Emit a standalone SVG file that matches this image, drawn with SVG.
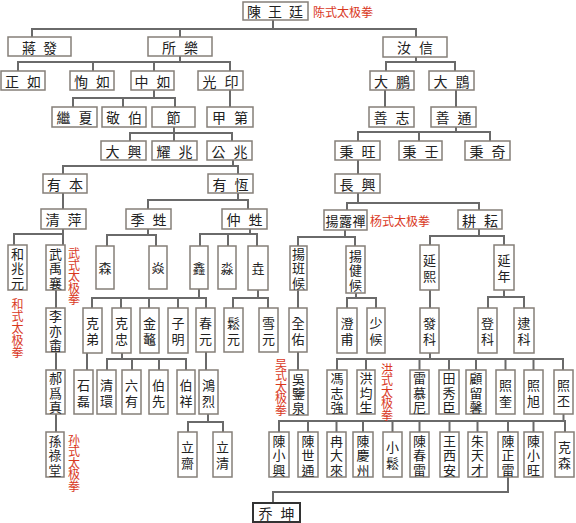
<svg xmlns="http://www.w3.org/2000/svg" width="576" height="523" viewBox="0 0 576 523">
<style>
.b{fill:#fff;stroke:#857f78;stroke-width:1.5}
.bk{fill:#fff;stroke:#333;stroke-width:2}
.t{font-family:"Noto Sans CJK TC","Noto Sans CJK SC",sans-serif;font-size:14px;fill:#222;text-anchor:middle;dominant-baseline:central}
.v{font-family:"Noto Sans CJK TC","Noto Sans CJK SC",sans-serif;font-size:13px;fill:#222;text-anchor:middle;dominant-baseline:central}
.r{font-family:"Noto Sans CJK SC",sans-serif;font-size:12px;fill:#d9381e;text-anchor:middle;dominant-baseline:central}
#connectors path{fill:none;stroke:#6a6a6a;stroke-width:2}
</style>
<rect width="576" height="523" fill="#fff"/>
<g id="connectors">
<path d="M273 20V29M32 37V29H416V37M180 29V37"/>
<path d="M180 56V62M18 71V62H230V71M93 62V71M154 62V71"/>
<path d="M416 57V62M386 71V62H455V71"/>
<path d="M154 90V98M73 107V98H175V107M123 98V107"/>
<path d="M230 90V107M385 90V107M456 90V107"/>
<path d="M174 127V141M130 141V133H232V141"/>
<path d="M456 127V132M358 141V132H490V141M419 132V141"/>
<path d="M233 160V166M63 174V166H238V174"/>
<path d="M358 160V174M63 193V209"/>
<path d="M238 193V200M148 209V200H248V209"/>
<path d="M358 193V203M347 210V203H479V210"/>
<path d="M14 245V234H63M63 229V245"/>
<path d="M148 229V235M107 246V235H156V246"/>
<path d="M250 229V234M200 246V234H257V246M228 234V246"/>
<path d="M345 230V237M298 246V237H355V246"/>
<path d="M479 229V236M430 245V236H504V245"/>
<path d="M56 290V308"/>
<path d="M199 289V298M92 308V298H206V308M121 298V308M149 298V308M178 298V308"/>
<path d="M258 290V298M233 308V298H268V308"/>
<path d="M298 290V308M430 290V308"/>
<path d="M356 293V298M347 308V298H376V308"/>
<path d="M504 290V297M488 308V297H524V308"/>
<path d="M56 352V370M87 353V370M206 352V370M298 352V370"/>
<path d="M122 353V359M107 370V359H186V370M132 359V370M159 359V370"/>
<path d="M430 353V359M337 370V359H563V370M366 359V370M419.5 359V370M449 359V370M476 359V370M505.5 359V370M533.5 359V370"/>
<path d="M56 414V432"/>
<path d="M208 414V422M188 432V422H223V432"/>
<path d="M563.5 414V421M279 432V421H565V432M308 421V432M336.5 421V432M363 421V432M392.5 421V432M419.5 421V432M449.5 421V432M477.5 421V432M508 421V432M533.5 421V432"/>
<path d="M508 477V492H273V503"/>
</g>

<g id="n-chenwangting"><rect class="b" x="243" y="2" width="65" height="18"/><text class="t" x="254 275 296" y="11">陳王廷</text></g>
<g id="n-jiangfa"><rect class="b" x="8" y="37" width="63" height="19"/><text class="t" x="29 50" y="46.5">蔣發</text></g>
<g id="n-suole"><rect class="b" x="148" y="37" width="64" height="19"/><text class="t" x="169 191" y="46.5">所樂</text></g>
<g id="n-ruxin"><rect class="b" x="383" y="37" width="64" height="20"/><text class="t" x="404 426" y="47">汝信</text></g>
<g id="n-zhengru"><rect class="b" x="1" y="71" width="44" height="19"/><text class="t" x="12 34" y="80.5">正如</text></g>
<g id="n-xunru"><rect class="b" x="70" y="71" width="44" height="19"/><text class="t" x="81 103" y="80.5">恂如</text></g>
<g id="n-zhongru"><rect class="b" x="131" y="71" width="43" height="19"/><text class="t" x="141.5 163.5" y="80.5">中如</text></g>
<g id="n-guangyin"><rect class="b" x="198" y="71" width="45" height="19"/><text class="t" x="209.5 231.5" y="80.5">光印</text></g>
<g id="n-dapeng"><rect class="b" x="370" y="71" width="44" height="19"/><text class="t" x="381 403" y="80.5">大鵬</text></g>
<g id="n-dakun"><rect class="b" x="429" y="71" width="45" height="19"/><text class="t" x="440.5 462.5" y="80.5">大鵾</text></g>
<g id="n-jixia"><rect class="b" x="52" y="107" width="45" height="20"/><text class="t" x="63.5 85.5" y="117">繼夏</text></g>
<g id="n-jingbo"><rect class="b" x="102" y="107" width="44" height="20"/><text class="t" x="113 135" y="117">敬伯</text></g>
<g id="n-jie"><rect class="b" x="152" y="107" width="43" height="20"/><text class="t" x="173.5" y="117">節</text></g>
<g id="n-jiadi"><rect class="b" x="207" y="107" width="46" height="20"/><text class="t" x="219 241" y="117">甲第</text></g>
<g id="n-shanzhi"><rect class="b" x="369" y="107" width="45" height="20"/><text class="t" x="380.5 402.5" y="117">善志</text></g>
<g id="n-shantong"><rect class="b" x="431" y="107" width="45" height="20"/><text class="t" x="442.5 464.5" y="117">善通</text></g>
<g id="n-daxing"><rect class="b" x="101" y="141" width="45" height="19"/><text class="t" x="112.5 134.5" y="150.5">大興</text></g>
<g id="n-yaozhao"><rect class="b" x="152" y="141" width="45" height="19"/><text class="t" x="163.5 185.5" y="150.5">耀兆</text></g>
<g id="n-gongzhao"><rect class="b" x="207" y="141" width="45" height="19"/><text class="t" x="218.5 240.5" y="150.5">公兆</text></g>
<g id="n-bingwang"><rect class="b" x="335" y="141" width="45" height="19"/><text class="t" x="346.5 368.5" y="150.5">秉旺</text></g>
<g id="n-bingren"><rect class="b" x="399" y="141" width="43" height="19"/><text class="t" x="409.5 431.5" y="150.5">秉壬</text></g>
<g id="n-bingqi"><rect class="b" x="465" y="141" width="45" height="19"/><text class="t" x="476.5 498.5" y="150.5">秉奇</text></g>
<g id="n-youben"><rect class="b" x="43" y="174" width="44" height="19"/><text class="t" x="54 76" y="183.5">有本</text></g>
<g id="n-youheng"><rect class="b" x="208" y="174" width="45" height="19"/><text class="t" x="219.5 241.5" y="183.5">有恆</text></g>
<g id="n-changxing"><rect class="b" x="335" y="174" width="45" height="19"/><text class="t" x="346.5 368.5" y="183.5">長興</text></g>
<g id="n-qingping"><rect class="b" x="41" y="209" width="45" height="20"/><text class="t" x="52.5 74.5" y="219">清萍</text></g>
<g id="n-jishen"><rect class="b" x="126" y="209" width="45" height="20"/><text class="t" x="137.5 159.5" y="219">季甡</text></g>
<g id="n-zhongshen"><rect class="b" x="222" y="209" width="45" height="20"/><text class="t" x="233.5 255.5" y="219">仲甡</text></g>
<g id="n-yangluchan"><rect class="b" x="324" y="210" width="43" height="20"/><text class="t" x="332 345.5 359" y="220" style="font-size:13px">揚露禪</text></g>
<g id="n-gengyun"><rect class="b" x="458" y="210" width="44" height="19"/><text class="t" x="469 491" y="219.5">耕耘</text></g>

<g id="n-hezhaoyuan"><rect class="b" x="8" y="245" width="19" height="45"/><text class="v" x="17.5 17.5 17.5" y="253 267.5 282">和兆元</text></g>
<g id="n-wuyuxiang"><rect class="b" x="46" y="245" width="19" height="45"/><text class="v" x="55.5 55.5 55.5" y="253 267.5 282">武禹襄</text></g>
<g id="n-sen"><rect class="b" x="96" y="246" width="18" height="43"/><text class="v" x="105" y="267.5">森</text></g>
<g id="n-yan"><rect class="b" x="149" y="246" width="18" height="43"/><text class="v" x="158" y="267.5">焱</text></g>
<g id="n-xin"><rect class="b" x="190" y="246" width="18" height="43"/><text class="v" x="199" y="267.5">鑫</text></g>
<g id="n-miao"><rect class="b" x="218" y="246" width="18" height="43"/><text class="v" x="227" y="267.5">淼</text></g>
<g id="n-yao"><rect class="b" x="248" y="246" width="20" height="44"/><text class="v" x="258" y="267.5">垚</text></g>
<g id="n-yangbanhou"><rect class="b" x="290" y="246" width="17" height="44"/><text class="v" x="298.5 298.5 298.5" y="253 267.5 282">揚班候</text></g>
<g id="n-yangjianhou"><rect class="b" x="346" y="246" width="19" height="47"/><text class="v" x="355.5 355.5 355.5" y="255 269.5 284">揚健候</text></g>
<g id="n-yanxi"><rect class="b" x="420" y="245" width="19" height="45"/><text class="v" x="429.5 429.5" y="259.5 275.5">延熙</text></g>
<g id="n-yannian"><rect class="b" x="494" y="245" width="20" height="45"/><text class="v" x="504 504" y="259.5 275.5">延年</text></g>

<g id="n-liyiyu"><rect class="b" x="46" y="308" width="19" height="44"/><text class="v" x="55.5 55.5 55.5" y="315.5 330 344.5">李亦畬</text></g>
<g id="n-kedi"><rect class="b" x="83" y="308" width="19" height="45"/><text class="v" x="92.5 92.5" y="322.5 338.5">克弟</text></g>
<g id="n-kezhong"><rect class="b" x="112" y="308" width="19" height="45"/><text class="v" x="121.5 121.5" y="322.5 338.5">克忠</text></g>
<g id="n-jinao"><rect class="b" x="140" y="308" width="19" height="45"/><text class="v" x="149.5 149.5" y="322.5 338.5">金鼇</text></g>
<g id="n-ziming"><rect class="b" x="168" y="308" width="20" height="45"/><text class="v" x="178 178" y="322.5 338.5">子明</text></g>
<g id="n-chunyuan"><rect class="b" x="196" y="308" width="19" height="44"/><text class="v" x="205.5 205.5" y="322 338">春元</text></g>
<g id="n-songyuan"><rect class="b" x="224" y="308" width="19" height="44"/><text class="v" x="233.5 233.5" y="322 338">鬆元</text></g>
<g id="n-xueyuan"><rect class="b" x="259" y="308" width="19" height="44"/><text class="v" x="268.5 268.5" y="322 338">雪元</text></g>
<g id="n-quanyou"><rect class="b" x="289" y="308" width="18" height="44"/><text class="v" x="298 298" y="322 338">全佑</text></g>
<g id="n-chengfu"><rect class="b" x="337" y="308" width="20" height="45"/><text class="v" x="347 347" y="322.5 338.5">澄甫</text></g>
<g id="n-shaohou"><rect class="b" x="367" y="308" width="18" height="45"/><text class="v" x="376 376" y="322.5 338.5">少候</text></g>
<g id="n-fake"><rect class="b" x="420" y="308" width="19" height="45"/><text class="v" x="429.5 429.5" y="322.5 338.5">發科</text></g>
<g id="n-dengke"><rect class="b" x="478" y="308" width="19" height="45"/><text class="v" x="487.5 487.5" y="322.5 338.5">登科</text></g>
<g id="n-daike"><rect class="b" x="514" y="308" width="20" height="45"/><text class="v" x="524 524" y="322.5 338.5">逮科</text></g>

<g id="n-haoweizhen"><rect class="b" x="46" y="370" width="19" height="44"/><text class="v" x="55.5 55.5 55.5" y="377.5 392 406.5">郝爲真</text></g>
<g id="n-shilei"><rect class="b" x="74" y="370" width="19" height="44"/><text class="v" x="83.5 83.5" y="384 400">石磊</text></g>
<g id="n-qinghuan"><rect class="b" x="97" y="370" width="19" height="44"/><text class="v" x="106.5 106.5" y="384 400">清環</text></g>
<g id="n-liuyou"><rect class="b" x="122" y="370" width="19" height="44"/><text class="v" x="131.5 131.5" y="384 400">六有</text></g>
<g id="n-boxian"><rect class="b" x="149" y="370" width="19" height="44"/><text class="v" x="158.5 158.5" y="384 400">伯先</text></g>
<g id="n-boxiang"><rect class="b" x="177" y="370" width="18" height="44"/><text class="v" x="186 186" y="384 400">伯祥</text></g>
<g id="n-honglie"><rect class="b" x="199" y="370" width="19" height="44"/><text class="v" x="208.5 208.5" y="384 400">鴻烈</text></g>
<g id="n-wujianquan"><rect class="b" x="289" y="370" width="19" height="45"/><text class="v" x="298.5 298.5 298.5" y="378 392.5 407">吳鑒泉</text></g>
<g id="n-fengzhiqiang"><rect class="b" x="327" y="370" width="20" height="44"/><text class="v" x="337 337 337" y="377.5 392 406.5">馮志強</text></g>
<g id="n-hongjunsheng"><rect class="b" x="357" y="370" width="18" height="44"/><text class="v" x="366 366 366" y="377.5 392 406.5">洪均生</text></g>
<g id="n-leimuni"><rect class="b" x="410" y="370" width="19" height="44"/><text class="v" x="419.5 419.5 419.5" y="377.5 392 406.5">雷慕尼</text></g>
<g id="n-tianxiuchen"><rect class="b" x="439" y="370" width="20" height="44"/><text class="v" x="449 449 449" y="377.5 392 406.5">田秀臣</text></g>
<g id="n-guliuxin"><rect class="b" x="466" y="370" width="20" height="44"/><text class="v" x="476 476 476" y="377.5 392 406.5">顧留馨</text></g>
<g id="n-zhaokui"><rect class="b" x="496" y="370" width="19" height="44"/><text class="v" x="505.5 505.5" y="384 400">照奎</text></g>
<g id="n-zhaoxu"><rect class="b" x="524" y="370" width="19" height="44"/><text class="v" x="533.5 533.5" y="384 400">照旭</text></g>
<g id="n-zhaopi"><rect class="b" x="554" y="370" width="19" height="44"/><text class="v" x="563.5 563.5" y="384 400">照丕</text></g>

<g id="n-sunlutang"><rect class="b" x="46" y="432" width="18" height="45"/><text class="v" x="55 55 55" y="440 454.5 469">孫祿堂</text></g>
<g id="n-lizhai"><rect class="b" x="178" y="432" width="19" height="45"/><text class="v" x="187.5 187.5" y="446.5 462.5">立齋</text></g>
<g id="n-liqing"><rect class="b" x="213" y="432" width="19" height="45"/><text class="v" x="222.5 222.5" y="446.5 462.5">立清</text></g>
<g id="n-chenxiaoxing"><rect class="b" x="269" y="432" width="20" height="45"/><text class="v" x="279 279 279" y="440 454.5 469">陳小興</text></g>
<g id="n-chenshitong"><rect class="b" x="298" y="432" width="20" height="45"/><text class="v" x="308 308 308" y="440 454.5 469">陳世通</text></g>
<g id="n-randalai"><rect class="b" x="327" y="432" width="19" height="45"/><text class="v" x="336.5 336.5 336.5" y="440 454.5 469">冉大來</text></g>
<g id="n-chenqingzhou"><rect class="b" x="353" y="432" width="20" height="45"/><text class="v" x="363 363 363" y="440 454.5 469">陳慶州</text></g>
<g id="n-xiaosong"><rect class="b" x="383" y="432" width="19" height="45"/><text class="v" x="392.5 392.5" y="446.5 462.5">小鬆</text></g>
<g id="n-chenchunlei"><rect class="b" x="410" y="432" width="19" height="45"/><text class="v" x="419.5 419.5 419.5" y="440 454.5 469">陳春雷</text></g>
<g id="n-wangxian"><rect class="b" x="440" y="432" width="19" height="45"/><text class="v" x="449.5 449.5 449.5" y="440 454.5 469">王西安</text></g>
<g id="n-zhutiancai"><rect class="b" x="468" y="432" width="19" height="45"/><text class="v" x="477.5 477.5 477.5" y="440 454.5 469">朱天才</text></g>
<g id="n-chenzhenglei"><rect class="b" x="498" y="432" width="20" height="45"/><text class="v" x="508 508 508" y="440 454.5 469">陳正雷</text></g>
<g id="n-chenxiaowang"><rect class="b" x="524" y="432" width="19" height="45"/><text class="v" x="533.5 533.5 533.5" y="440 454.5 469">陳小旺</text></g>
<g id="n-kesen"><rect class="b" x="555" y="432" width="19" height="45"/><text class="v" x="564.5 564.5" y="446.5 462.5">克森</text></g>

<g id="n-qiaokun"><rect class="bk" x="253" y="503" width="47" height="19"/><text class="t" x="265.5 287.5" y="512.5">乔坤</text></g>

<g id="labels">
<text class="r" x="319 331 343 355 367" y="11">陈式太极拳</text>
<text class="r" x="376 388 400 412 424" y="220">杨式太极拳</text>
<text class="r" x="74 74 74 74 74" y="252.5 264 275.5 287 298.5">武式太极拳</text>
<text class="r" x="17.5 17.5 17.5 17.5 17.5" y="303 315 327 339 351">和式太极拳</text>
<text class="r" x="281 281 281 281 281" y="363 374.5 386 397.5 409">吴式太极拳</text>
<text class="r" x="387 387 387 387 387" y="368 379.5 391 402.5 414">洪式太极拳</text>
<text class="r" x="74 74 74 74 74" y="439 450.5 462 473.5 485">孙式太极拳</text>
</g>
</svg>
